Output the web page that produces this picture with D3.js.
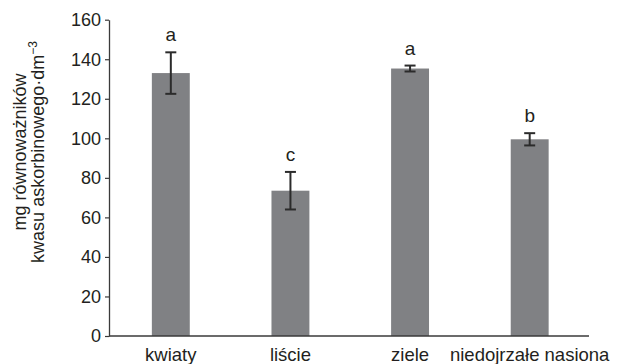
<!DOCTYPE html>
<html>
<head>
<meta charset="utf-8">
<script src="https://cdn.jsdelivr.net/npm/d3@7"></script>
<style>
  html, body { margin: 0; padding: 0; background: #fff; }
  svg { display: block; font-family: "Liberation Sans", Arial, sans-serif; }
</style>
</head>
<body>
<svg id="chart" width="625" height="364"></svg>
<script>
// Antioxidant content by plant part (mean ± error), with significance letters
const categories = ["kwiaty", "liście", "ziele", "niedojrzałe nasiona"];
const means = [133, 73.5, 135.3, 99.5];
const errors = [10.5, 9.5, 1.5, 3.1];
const groups = ["a", "c", "a", "b"];
const yTicks = [0, 20, 40, 60, 80, 100, 120, 140, 160];

const svg = d3.select("#chart");
const axisX0 = 109, axisX1 = 589;
const yTop = 19.7, yBottom = 336;

const x = d3.scaleBand().domain(categories).range([111, 589.5]).paddingInner(0.683).paddingOuter(0.3415);
const y = d3.scaleLinear().domain([0, 160]).range([yBottom, yTop]);

const textColor = "#231f20";
const axisColor = "#3a3a3a";

// Bars
svg.append("g").selectAll("rect")
  .data(categories)
  .join("rect")
  .attr("x", d => x(d))
  .attr("width", x.bandwidth())
  .attr("y", (d, i) => y(means[i]))
  .attr("height", (d, i) => yBottom - y(means[i]))
  .attr("fill", "#808184");

// Error bars
const eb = svg.append("g").attr("stroke", "#2b2b2b").attr("stroke-width", 2).attr("fill", "none");
categories.forEach((c, i) => {
  const cx = x(c) + x.bandwidth() / 2;
  const hi = y(means[i] + errors[i]);
  const lo = y(means[i] - errors[i]);
  eb.append("line").attr("x1", cx).attr("x2", cx).attr("y1", hi).attr("y2", lo);
  eb.append("line").attr("x1", cx - 5.5).attr("x2", cx + 5.5).attr("y1", hi).attr("y2", hi);
  eb.append("line").attr("x1", cx - 5.5).attr("x2", cx + 5.5).attr("y1", lo).attr("y2", lo);
});

// Significance letters
svg.append("g").selectAll("text")
  .data(categories)
  .join("text")
  .attr("x", d => x(d) + x.bandwidth() / 2)
  .attr("y", (d, i) => y(means[i] + errors[i]) - 11)
  .attr("text-anchor", "middle")
  .style("font-size", "19px")
  .attr("fill", textColor)
  .text((d, i) => groups[i]);

// Y axis
const yAxis = d3.axisLeft(y).tickValues(yTicks).tickSizeInner(4).tickSizeOuter(0).tickPadding(4);
const gy = svg.append("g").attr("transform", `translate(${axisX0},0)`).call(yAxis)
  .attr("font-family", null).attr("font-size", null);
gy.select(".domain").attr("stroke", axisColor).attr("stroke-width", 1.3);
gy.selectAll(".tick line").attr("stroke", axisColor).attr("stroke-width", 1.2);
gy.selectAll(".tick text").style("font-size", "18px").attr("fill", textColor);

// X axis baseline and category labels
svg.append("line")
  .attr("x1", axisX0).attr("x2", axisX1)
  .attr("y1", yBottom).attr("y2", yBottom)
  .attr("stroke", axisColor).attr("stroke-width", 1.3);

svg.append("g").selectAll("text")
  .data(categories)
  .join("text")
  .attr("x", d => x(d) + x.bandwidth() / 2)
  .attr("y", 361)
  .attr("text-anchor", "middle")
  .style("font-size", "18.5px")
  .attr("fill", textColor)
  .text(d => d);

// Y axis title (two lines)
const title = svg.append("text")
  .attr("transform", "translate(0,152) rotate(-90)")
  .attr("text-anchor", "middle")
  .style("font-size", "18px")
  .attr("fill", textColor);
title.append("tspan").attr("x", 0).attr("y", 26).text("mg równoważników");
title.append("tspan").attr("x", 0).attr("y", 44).text("kwasu askorbinowego·dm");
title.append("tspan").attr("dy", -7).style("font-size", "12px").text("−3");
</script>
</body>
</html>
